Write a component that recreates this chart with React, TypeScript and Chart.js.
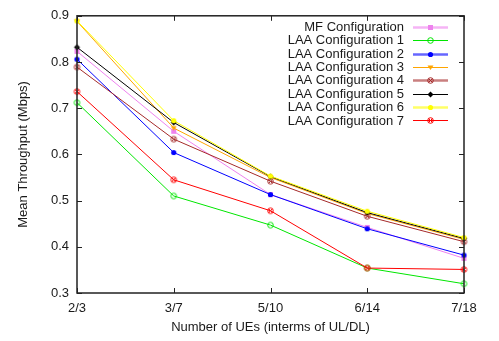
import React, { useEffect, useRef } from "react";
import { Chart, registerables } from "chart.js";

Chart.register(...registerables);

const categories = ["2/3", "3/7", "5/10", "6/14", "7/18"];
const yTicks = [0.3, 0.4, 0.5, 0.6, 0.7, 0.8, 0.9];

const seriesNames = [
  "MF Configuration",
  "LAA Configuration 1",
  "LAA Configuration 2",
  "LAA Configuration 3",
  "LAA Configuration 4",
  "LAA Configuration 5",
  "LAA Configuration 6",
  "LAA Configuration 7",
];

const mfValues = [0.823, 0.65, 0.513, 0.442, 0.375];
const laa1Values = [0.712, 0.51, 0.447, 0.354, 0.32];
const laa2Values = [0.806, 0.604, 0.513, 0.439, 0.382];
const laa3Values = [0.888, 0.657, 0.55, 0.472, 0.416];
const laa4Values = [0.789, 0.633, 0.542, 0.466, 0.411];
const laa5Values = [0.832, 0.669, 0.552, 0.474, 0.418];
const laa6Values = [0.889, 0.673, 0.553, 0.477, 0.42];
const laa7Values = [0.736, 0.545, 0.478, 0.354, 0.351];

const seriesValues = [mfValues, laa1Values, laa2Values, laa3Values, laa4Values, laa5Values, laa6Values, laa7Values];

const colors = ["#ee82ee", "#00e600", "#0000ff", "#ffa500", "#a52a2a", "#000000", "#ffff00", "#ff0000"];
const markers = ["square", "ocircle", "dot", "tri", "oplus", "diamond", "dot", "oplus"];
const legendThick = [true, false, true, false, true, false, true, false];

const FONT = "'Liberation Sans', Arial, sans-serif";
const TEXT = "#1a1a1a";

function makeMarker(kind: string, color: string): HTMLCanvasElement {
  const c = document.createElement("canvas");
  c.width = 9;
  c.height = 9;
  const g = c.getContext("2d")!;
  g.strokeStyle = color;
  g.fillStyle = color;
  g.lineWidth = 1;
  const cx = 4.5, cy = 4.5;
  if (kind === "square") {
    g.fillRect(2, 2, 5, 5);
  } else if (kind === "ocircle") {
    g.beginPath();
    g.arc(cx, cy, 2.8, 0, Math.PI * 2);
    g.stroke();
  } else if (kind === "dot") {
    g.beginPath();
    g.arc(cx, cy, 2.6, 0, Math.PI * 2);
    g.fill();
  } else if (kind === "tri") {
    g.beginPath();
    g.moveTo(1.5, 2.5);
    g.lineTo(7.5, 2.5);
    g.lineTo(4.5, 7);
    g.closePath();
    g.fill();
  } else if (kind === "oplus") {
    g.beginPath();
    g.arc(cx, cy, 2.8, 0, Math.PI * 2);
    g.stroke();
    g.beginPath();
    g.moveTo(2.5, 2.5);
    g.lineTo(6.5, 6.5);
    g.moveTo(6.5, 2.5);
    g.lineTo(2.5, 6.5);
    g.stroke();
  } else if (kind === "diamond") {
    g.beginPath();
    g.moveTo(cx, 1.5);
    g.lineTo(7.5, cy);
    g.lineTo(cx, 7.5);
    g.lineTo(1.5, cy);
    g.closePath();
    g.fill();
  }
  return c;
}

const frameAndLegend = {
  id: "frameAndLegend",
  afterDraw(chart: any) {
    const { ctx, chartArea } = chart;
    const { left, right, top, bottom } = chartArea;
    const xs = chart.scales.x;
    const ys = chart.scales.y;
    ctx.save();
    ctx.strokeStyle = "#222";
    ctx.lineWidth = 1.5;
    ctx.strokeRect(left, top, right - left, bottom - top);
    ctx.lineWidth = 1;
    ctx.beginPath();
    ys.ticks.forEach((t: any) => {
      const y = Math.round(ys.getPixelForValue(t.value)) + 0.5;
      ctx.moveTo(left, y);
      ctx.lineTo(left + 5, y);
      ctx.moveTo(right, y);
      ctx.lineTo(right - 5, y);
    });
    categories.forEach((_, i) => {
      const x = Math.round(xs.getPixelForValue(i)) + 0.5;
      ctx.moveTo(x, bottom);
      ctx.lineTo(x, bottom - 5);
      ctx.moveTo(x, top);
      ctx.lineTo(x, top + 5);
    });
    ctx.stroke();

    // legend
    const textRight = right - 60;
    const lineL = right - 51;
    const lineR = right - 16;
    const y0 = top + 11;
    const step = 13.38;
    ctx.font = `13px ${FONT}`;
    ctx.textAlign = "right";
    ctx.textBaseline = "middle";
    chart.data.datasets.forEach((ds: any, i: number) => {
      const y = y0 + i * step;
      ctx.fillStyle = TEXT;
      ctx.fillText(ds.label, textRight, y + 0.5);
      ctx.save();
      if (ds.legendThick) {
        ctx.globalAlpha = 0.6;
        ctx.lineWidth = 2.5;
      } else {
        ctx.lineWidth = 1;
      }
      ctx.strokeStyle = ds.borderColor;
      ctx.beginPath();
      ctx.moveTo(lineL, Math.round(y) + 0.5);
      ctx.lineTo(lineR, Math.round(y) + 0.5);
      ctx.stroke();
      ctx.restore();
      const img = ds.pointStyle as HTMLCanvasElement;
      ctx.drawImage(img, Math.round((lineL + lineR) / 2 - img.width / 2), Math.round(y + 0.5 - img.height / 2));
    });
    ctx.restore();
  },
};

export default function App() {
  const ref = useRef<HTMLCanvasElement | null>(null);
  useEffect(() => {
    if (!ref.current) return;
    const datasets = seriesNames.map((name, i) => ({
      label: name,
      data: seriesValues[i],
      borderColor: colors[i],
      backgroundColor: colors[i],
      borderWidth: 1,
      pointStyle: makeMarker(markers[i], colors[i]),
      pointRadius: 4,
      pointHoverRadius: 4,
      tension: 0,
      fill: false,
      order: -i,
      legendThick: legendThick[i],
    }));
    const chart = new Chart(ref.current, {
      type: "line",
      data: { labels: categories, datasets: datasets as any },
      options: {
        animation: false,
        responsive: false,
        devicePixelRatio: 1,
        events: [],
        layout: { padding: { top: 13, right: 35, left: 0, bottom: 0 } },
        plugins: { legend: { display: false }, tooltip: { enabled: false } },
        scales: {
          x: {
            type: "category",
            offset: false,
            grid: { display: false, drawTicks: false },
            border: { display: false },
            ticks: { color: TEXT, font: { family: FONT, size: 13 }, padding: 8, maxRotation: 0, autoSkip: false },
            title: {
              display: true,
              text: "Number of UEs (interms of UL/DL)",
              color: TEXT,
              font: { family: FONT, size: 13 },
              padding: { top: 0, bottom: 6 },
            },
            afterFit: (s: any) => {
              s.height = 48;
            },
          },
          y: {
            min: 0.3,
            max: 0.9,
            afterBuildTicks: (s: any) => {
              s.ticks = yTicks.map((v) => ({ value: v }));
            },
            grid: { display: false, drawTicks: false },
            border: { display: false },
            ticks: {
              color: TEXT,
              font: { family: FONT, size: 13 },
              padding: 8,
              callback: (v: any) => Number(v).toFixed(1),
            },
            title: {
              display: true,
              text: "Mean Throughput (Mbps)",
              color: TEXT,
              font: { family: FONT, size: 13 },
              padding: { top: 16, bottom: 0 },
            },
            afterFit: (s: any) => {
              s.width = 77;
            },
          },
        },
      },
      plugins: [frameAndLegend],
    });
    return () => chart.destroy();
  }, []);
  return (
    <div style={{ position: "fixed", left: 0, top: 0, width: 499, height: 341, background: "#fff" }}>
      <canvas ref={ref} width={499} height={341} style={{ display: "block" }} />
    </div>
  );
}
